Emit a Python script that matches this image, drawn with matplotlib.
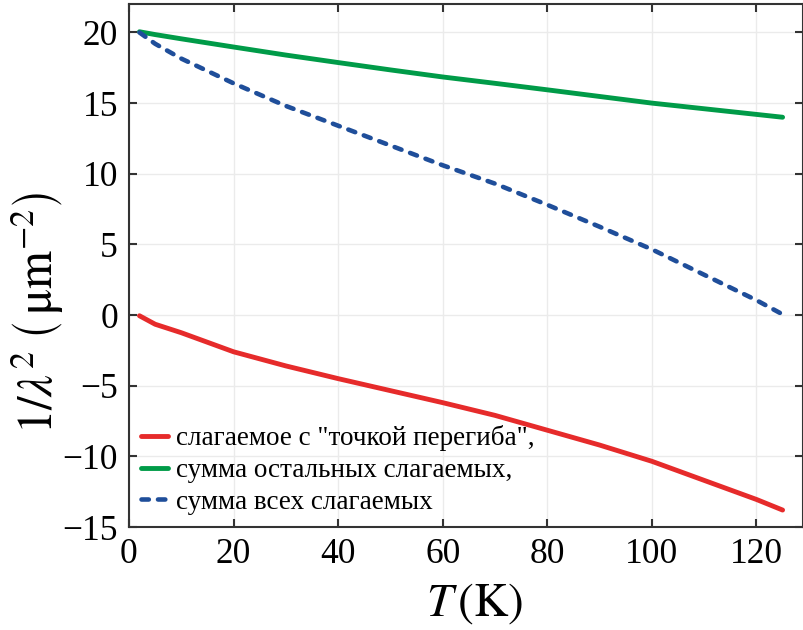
import matplotlib
matplotlib.use("Agg")
import matplotlib.pyplot as plt

T = [2, 5, 10, 20, 30, 40, 50, 60, 70, 80, 90, 100, 110, 120, 125]
red_term = [-0.05, -0.65, -1.25, -2.6, -3.6, -4.5, -5.35, -6.2, -7.1, -8.15, -9.2, -10.35, -11.7, -13.05, -13.8]
green_rest = [20.05, 19.85, 19.55, 18.97, 18.4, 17.87, 17.35, 16.85, 16.4, 15.94, 15.47, 15.0, 14.6, 14.2, 14.0]
blue_sum = [20.0, 19.2, 18.15, 16.4, 14.8, 13.4, 12.0, 10.6, 9.3, 7.8, 6.25, 4.65, 2.85, 1.05, 0.05]

labels = ['слагаемое с "точкой перегиба",', 'сумма остальных слагаемых,', 'сумма всех слагаемых']
xticks = [0, 20, 40, 60, 80, 100, 120]
yticks = [-15, -10, -5, 0, 5, 10, 15, 20]

plt.rcParams['font.family'] = ['Liberation Serif', 'DejaVu Serif']
plt.rcParams['mathtext.fontset'] = 'stix'

fig = plt.figure(figsize=(8.04, 6.30), dpi=100)
ax = fig.add_axes([129/804, 1-527/630, (803.5-129)/804, (527-4.2)/630])

ax.plot(T, red_term, color='#E62B2B', lw=3.5, label=labels[0], solid_capstyle='round')
ax.plot(T, green_rest, color='#009B48', lw=3.5, label=labels[1], solid_capstyle='round')
ax.plot(T, blue_sum, color='#1F4E9A', lw=3.3, ls=(0, (1.6, 2.0)), label=labels[2], dash_capstyle='round')

ax.set_xlim(0, 129)
ax.set_ylim(-15, 22)
ax.set_xticks(xticks)
ax.set_yticks(yticks)
ax.grid(True, color='#ebebeb', lw=1.0)
ax.set_axisbelow(True)
ax.tick_params(direction='in', top=True, right=True, length=6, width=1.5, labelsize=25.5, color='#333333', pad=8)
for s in ax.spines.values():
    s.set_linewidth(1.5)
    s.set_color('#333333')

ax.set_xlabel(r'$T\,\left(\mathrm{K}\right)$', fontsize=34)
ax.set_ylabel(r'$1/\lambda^{2}\;\left(\,\mathrm{\mu m}^{-2}\right)$', fontsize=35)
ax.xaxis.set_label_coords(0.513, -0.104)
ax.yaxis.set_label_coords(-0.093, 0.41)

leg = ax.legend(loc='lower left', frameon=False, fontsize=19.5, handlelength=1.0, handletextpad=0.3,
                labelspacing=0.25, borderaxespad=0.2, borderpad=0.25)

fig.savefig('out.png', dpi=100)
